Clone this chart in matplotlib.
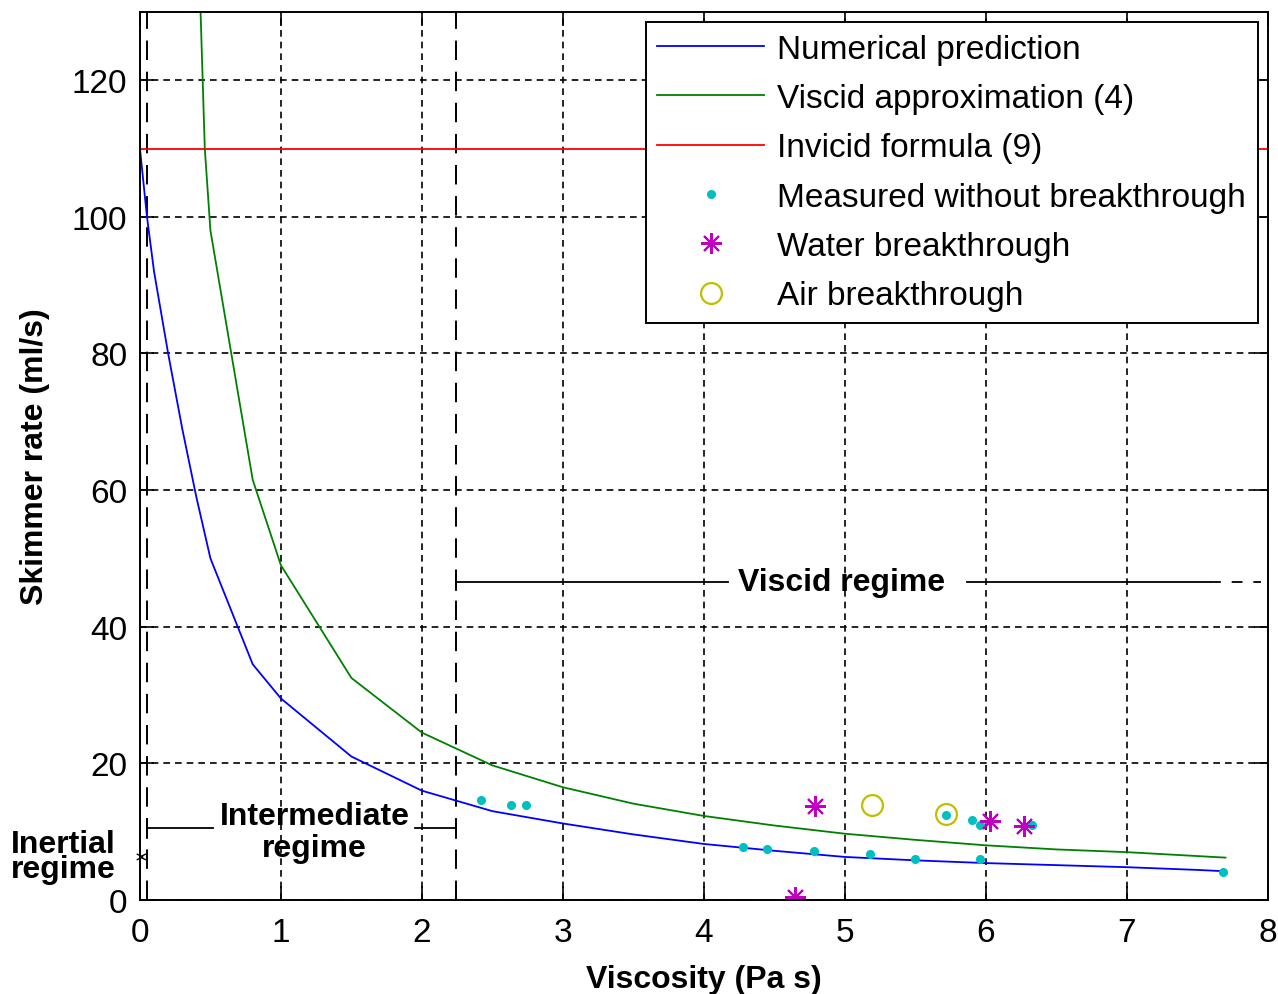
import matplotlib
matplotlib.use("Agg")
import matplotlib.pyplot as plt
import numpy as np

plt.rcParams['font.family'] = ['Liberation Sans', 'DejaVu Sans']

# Numerical prediction (blue)
num_x = [0, 0.05, 0.1, 0.2, 0.3, 0.4, 0.5, 0.8, 1.0, 1.5, 2.0, 2.5, 3.0, 3.5, 4.0,
         4.5, 5.0, 5.5, 6.0, 6.5, 7.0, 7.5, 7.7]
num_y = [110, 100, 92, 80, 69, 59, 50, 34.5, 29.5, 21, 16, 13, 11.2, 9.6, 8.2,
         7.2, 6.3, 5.8, 5.4, 5.1, 4.8, 4.4, 4.2]

# Viscid approximation (4) (green)
vis_x = [0.43, 0.46, 0.5, 0.8, 1.0, 1.5, 2.0, 2.5, 3.0, 3.5, 4.0, 4.5, 5.0, 5.5,
         6.0, 6.5, 7.0, 7.7]
vis_y = [130, 110, 98, 61.5, 49, 32.5, 24.5, 19.7, 16.5, 14.1, 12.3, 10.9, 9.7, 8.8,
         8.0, 7.4, 7.0, 6.2]

# Invicid formula (9) (red)
inv_x = [0, 8]
inv_y = [110, 110]

# Measured without breakthrough
meas_x = [2.42, 2.63, 2.74, 4.28, 4.45, 4.78, 5.18, 5.50, 5.96, 5.72, 5.90, 5.96, 6.33, 7.68]
meas_y = [14.7, 13.9, 13.9, 7.8, 7.5, 7.1, 6.7, 6.0, 6.0, 12.5, 11.7, 11.0, 11.0, 4.1]

# Water breakthrough
water_x = [4.79, 4.65, 6.03, 6.27]
water_y = [13.8, 0.5, 11.5, 10.8]

# Air breakthrough
air_x = [5.19, 5.72]
air_y = [13.9, 12.6]

fig = plt.figure(figsize=(12.78, 9.95), dpi=100)
ax = fig.add_axes([0.1095, 0.0945, 0.8825, 0.8925])

ax.plot(num_x, num_y, color=(0, 0, 1), lw=1.3, label='Numerical prediction')
ax.plot(vis_x, vis_y, color=(0, 0.5, 0), lw=1.3, label='Viscid approximation (4)')
ax.plot(inv_x, inv_y, color=(1, 0, 0), lw=1.3, label='Invicid formula (9)')
ax.plot(meas_x, meas_y, ls='none', marker='.', ms=11, color=(0, 0.75, 0.75),
        label='Measured without breakthrough')
ax.plot(water_x, water_y, ls='none', marker=(8, 2, 0), ms=15, mew=1.5,
        color=(0.75, 0, 0.75), label='Water breakthrough')
ax.plot(air_x, air_y, ls='none', marker='o', ms=15, mfc='none', mew=1.6,
        color=(0.75, 0.75, 0), label='Air breakthrough')

ax.set_xlim(0, 8)
ax.set_ylim(0, 130)
ax.set_xticks(range(0, 9))
ax.set_yticks(range(0, 121, 20))
ax.grid(True, color='black', ls=(0, (4, 3)), lw=1.2)
ax.tick_params(direction='in', length=10, width=1.2, top=True, right=True,
               labelsize=24, pad=9)
ax.tick_params(axis='x', pad=12)
for s in ax.spines.values():
    s.set_linewidth(1.4)

# regime boundaries
for xb in [0.05, 2.24]:
    ax.axvline(xb, color='black', lw=1.4, ls=(0, (10, 6)), zorder=1)

# intermediate regime bracket
yb = 10.5
ax.plot([0.05, 0.52], [yb, yb], color='black', lw=1.3)
ax.plot([1.95, 2.24], [yb, yb], color='black', lw=1.3)
ax.plot([0.05, 0.05], [yb - 1.4, yb + 1.4], color='black', lw=1.3)
ax.plot([2.24, 2.24], [yb - 1.4, yb + 1.4], color='black', lw=1.3)
ax.text(1.24, 10.0, 'Intermediate\nregime', ha='center', va='center',
        fontsize=23, fontweight='bold', linespacing=1.1)

# viscid regime bracket
yv = 46.6
ax.plot([2.24, 4.17], [yv, yv], color='black', lw=1.3)
ax.plot([5.87, 7.59], [yv, yv], color='black', lw=1.3)
ax.plot([7.59, 7.95], [yv, yv], color='black', lw=1.3, ls=(0, (6, 6)))
ax.plot([2.24, 2.24], [yv - 1.2, yv + 1.2], color='black', lw=1.3)
ax.text(4.98, yv, 'Viscid regime', ha='center', va='center',
        fontsize=23, fontweight='bold')

# inertial regime
ax.annotate('', xy=(0.05, 6.3), xytext=(-0.03, 6.3),
            arrowprops=dict(arrowstyle='<->', lw=1.0, color='black',
                            mutation_scale=10), annotation_clip=False)
ax.text(-0.17, 6.4, 'Inertial\nregime', ha='right', va='center',
        fontsize=23, fontweight='bold', linespacing=0.8)

ax.set_xlabel('Viscosity (Pa s)', fontsize=23, fontweight='bold', labelpad=12)
ax.set_ylabel('Skimmer rate (ml/s)', fontsize=23, fontweight='bold', labelpad=16)

leg = ax.legend(loc='upper right', fontsize=24, handlelength=3.2,
                labelspacing=0.55, borderaxespad=0.3, fancybox=False,
                framealpha=1, edgecolor='black', handletextpad=0.4,
                borderpad=0.35)
leg.get_frame().set_linewidth(1.4)

fig.savefig('out.png', dpi=100)
